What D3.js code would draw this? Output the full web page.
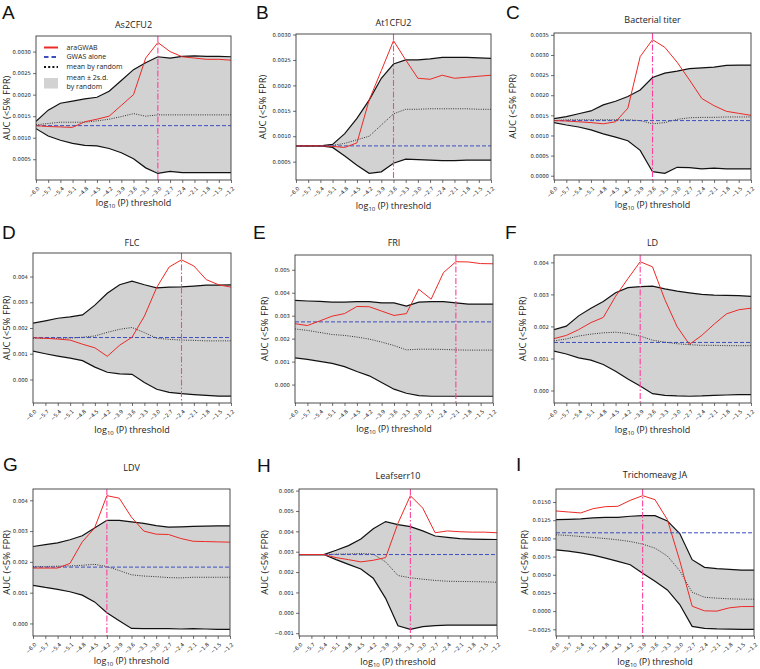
<!DOCTYPE html>
<html>
<head>
<meta charset="utf-8">
<script src="https://cdn.jsdelivr.net/npm/d3@7"></script>
<style>
  html, body { margin: 0; padding: 0; background: #fff; }
  svg { display: block; }
</style>
</head>
<body>
<svg id="chart" width="760" height="669"></svg>
<script>
// ---------------- DATA ----------------
const thresholds = [-6.0, -5.7, -5.4, -5.1, -4.8, -4.5, -4.2, -3.9, -3.6, -3.3, -3.0, -2.7, -2.4, -2.1, -1.8, -1.5, -1.2];
const panelLetters = ["A", "B", "C", "D", "E", "F", "G", "H", "I"];
const panelTitles = ["As2CFU2", "At1CFU2", "Bacterial titer", "FLC", "FRI", "LD", "LDV", "Leafserr10", "Trichomeavg JA"];
const legendLabels = ["araGWAB", "GWAS alone", "mean by random", "mean \u00B1 2s.d.", "by random"];

// araGWAB (red) per panel
const araGWAB = [
  [0.00128,0.00126,0.00125,0.00124,0.00137,0.00143,0.00150,0.00175,0.00200,0.00285,0.00321,0.00300,0.00288,0.00285,0.00282,0.00282,0.00280],
  [0.00081,0.00081,0.00081,0.00080,0.00078,0.00087,0.00171,0.00229,0.00288,0.00250,0.00214,0.00212,0.00220,0.00214,0.00216,0.00218,0.00220],
  [0.00137,0.00136,0.00134,0.00132,0.00129,0.00134,0.00168,0.00296,0.00338,0.00319,0.00282,0.00238,0.00192,0.00174,0.00160,0.00155,0.00150],
  [0.00162,0.00160,0.00157,0.00153,0.00137,0.00123,0.00090,0.00133,0.00164,0.00246,0.00358,0.00437,0.00465,0.00441,0.00388,0.00368,0.00359],
  [0.00265,0.00257,0.00277,0.00298,0.00309,0.00340,0.00339,0.00320,0.00301,0.00309,0.00415,0.00372,0.00488,0.00535,0.00534,0.00527,0.00526],
  [0.00162,0.00172,0.00190,0.00212,0.00228,0.00294,0.00349,0.00402,0.00386,0.00284,0.00199,0.00144,0.00172,0.00207,0.00239,0.00252,0.00257],
  [0.00180,0.00180,0.00180,0.00195,0.00265,0.00310,0.00415,0.00407,0.00345,0.00300,0.00290,0.00289,0.00276,0.00267,0.00266,0.00265,0.00264],
  [0.00286,0.00286,0.00286,0.00271,0.00261,0.00250,0.00258,0.00271,0.00440,0.00575,0.00514,0.00393,0.00402,0.00398,0.00396,0.00396,0.00393],
  [0.01377,0.01363,0.01350,0.01409,0.01436,0.01441,0.01523,0.01587,0.01532,0.01258,0.00693,0.00068,0.00004,0.00000,0.00045,0.00063,0.00063]
];
// mean + 2 s.d. by random
const upperBand = [
  [0.00138,0.00164,0.00180,0.00185,0.00190,0.00194,0.00208,0.00233,0.00258,0.00274,0.00288,0.00285,0.00289,0.00290,0.00289,0.00289,0.00288],
  [0.00081,0.00081,0.00081,0.00084,0.00105,0.00135,0.00171,0.00214,0.00242,0.00250,0.00250,0.00252,0.00255,0.00255,0.00255,0.00254,0.00253],
  [0.00142,0.00147,0.00154,0.00161,0.00176,0.00185,0.00197,0.00213,0.00244,0.00255,0.00260,0.00266,0.00268,0.00270,0.00274,0.00275,0.00275],
  [0.00219,0.00228,0.00238,0.00243,0.00251,0.00289,0.00335,0.00368,0.00382,0.00368,0.00356,0.00359,0.00360,0.00363,0.00367,0.00367,0.00368],
  [0.00367,0.00364,0.00362,0.00359,0.00359,0.00361,0.00361,0.00356,0.00356,0.00342,0.00359,0.00361,0.00361,0.00356,0.00350,0.00350,0.00350],
  [0.00190,0.00201,0.00233,0.00257,0.00278,0.00305,0.00321,0.00324,0.00326,0.00317,0.00310,0.00305,0.00300,0.00298,0.00297,0.00296,0.00294],
  [0.00250,0.00256,0.00262,0.00272,0.00285,0.00310,0.00335,0.00335,0.00330,0.00325,0.00318,0.00313,0.00314,0.00315,0.00316,0.00317,0.00317],
  [0.00286,0.00286,0.00286,0.00307,0.00330,0.00362,0.00413,0.00448,0.00433,0.00423,0.00402,0.00377,0.00370,0.00364,0.00362,0.00361,0.00360],
  [0.01258,0.01262,0.01267,0.01281,0.01290,0.01290,0.01304,0.01313,0.01313,0.01240,0.01067,0.00707,0.00602,0.00583,0.00574,0.00565,0.00565]
];
// mean - 2 s.d. by random
const lowerBand = [
  [0.00121,0.00104,0.00094,0.00087,0.00082,0.00081,0.00075,0.00065,0.00051,0.00030,0.00017,0.00022,0.00019,0.00019,0.00019,0.00019,0.00019],
  [0.00081,0.00081,0.00081,0.00078,0.00061,0.00043,0.00027,0.00030,0.00047,0.00055,0.00054,0.00053,0.00052,0.00052,0.00053,0.00053,0.00053],
  [0.00132,0.00126,0.00121,0.00114,0.00104,0.00096,0.00087,0.00063,0.00010,0.00006,0.00021,0.00020,0.00017,0.00019,0.00017,0.00017,0.00017],
  [0.00110,0.00100,0.00091,0.00083,0.00073,0.00048,0.00028,0.00022,0.00020,-0.00012,-0.00038,-0.00050,-0.00055,-0.00059,-0.00062,-0.00065,-0.00065],
  [0.00116,0.00110,0.00101,0.00092,0.00078,0.00057,0.00038,0.00009,-0.00020,-0.00038,-0.00048,-0.00051,-0.00051,-0.00051,-0.00051,-0.00051,-0.00051],
  [0.00123,0.00114,0.00102,0.00095,0.00081,0.00060,0.00036,0.00014,-0.00010,-0.00015,-0.00017,-0.00018,-0.00017,-0.00015,-0.00014,-0.00013,-0.00013],
  [0.00124,0.00117,0.00111,0.00103,0.00092,0.00070,0.00035,0.00009,-0.00016,-0.00017,-0.00017,-0.00017,-0.00018,-0.00017,-0.00018,-0.00019,-0.00019],
  [0.00286,0.00286,0.00286,0.00261,0.00238,0.00215,0.00170,0.00071,-0.00064,-0.00081,-0.00068,-0.00063,-0.00060,-0.00060,-0.00060,-0.00060,-0.00060],
  [0.00843,0.00825,0.00802,0.00770,0.00729,0.00684,0.00638,0.00520,0.00410,0.00292,0.00091,-0.00210,-0.00237,-0.00245,-0.00247,-0.00250,-0.00250]
];
// mean by random
const meanRandom = [
  [0.00130,0.00133,0.00136,0.00136,0.00136,0.00139,0.00143,0.00149,0.00156,0.00150,0.00153,0.00153,0.00153,0.00153,0.00153,0.00153,0.00153],
  [0.00081,0.00081,0.00081,0.00082,0.00086,0.00093,0.00100,0.00122,0.00144,0.00153,0.00153,0.00154,0.00154,0.00154,0.00154,0.00153,0.00153],
  [0.00137,0.00139,0.00139,0.00139,0.00139,0.00139,0.00139,0.00137,0.00129,0.00132,0.00140,0.00144,0.00145,0.00145,0.00146,0.00146,0.00146],
  [0.00160,0.00160,0.00160,0.00161,0.00164,0.00169,0.00183,0.00195,0.00202,0.00182,0.00160,0.00156,0.00153,0.00152,0.00150,0.00150,0.00150],
  [0.00242,0.00236,0.00227,0.00218,0.00214,0.00207,0.00198,0.00185,0.00170,0.00151,0.00154,0.00154,0.00153,0.00151,0.00150,0.00150,0.00150],
  [0.00155,0.00161,0.00170,0.00176,0.00180,0.00182,0.00178,0.00170,0.00157,0.00151,0.00146,0.00143,0.00141,0.00141,0.00140,0.00140,0.00140],
  [0.00185,0.00185,0.00186,0.00187,0.00189,0.00192,0.00185,0.00172,0.00158,0.00154,0.00152,0.00149,0.00148,0.00150,0.00150,0.00150,0.00150],
  [0.00286,0.00286,0.00286,0.00288,0.00289,0.00291,0.00288,0.00250,0.00183,0.00172,0.00165,0.00159,0.00155,0.00154,0.00153,0.00152,0.00150],
  [0.01049,0.01040,0.01026,0.01012,0.00998,0.00980,0.00957,0.00921,0.00866,0.00757,0.00556,0.00260,0.00191,0.00178,0.00169,0.00164,0.00164]
];
// GWAS alone (constant)
const gwasAlone = [0.00128, 0.00081, 0.00137, 0.00163, 0.00273, 0.00150, 0.00183, 0.00286, 0.01077];
// best threshold (vertical line)
const bestThreshold = [-3.0, -3.6, -3.6, -2.4, -2.1, -3.9, -4.2, -3.3, -3.9];
// y tick values per panel
const yTicks = [
  [0.0005, 0.0010, 0.0015, 0.0020, 0.0025, 0.0030],
  [0.0005, 0.0010, 0.0015, 0.0020, 0.0025, 0.0030],
  [0.0000, 0.0005, 0.0010, 0.0015, 0.0020, 0.0025, 0.0030, 0.0035],
  [0.000, 0.001, 0.002, 0.003, 0.004],
  [0.000, 0.001, 0.002, 0.003, 0.004, 0.005],
  [0.000, 0.001, 0.002, 0.003, 0.004],
  [0.000, 0.001, 0.002, 0.003, 0.004],
  [-0.001, 0.000, 0.001, 0.002, 0.003, 0.004, 0.005, 0.006],
  [-0.0025, 0.0000, 0.0025, 0.0050, 0.0075, 0.0100, 0.0125, 0.0150]
];
const yTickDecimals = [4, 4, 4, 3, 3, 3, 3, 3, 4];

// ---------------- LAYOUT ----------------
const boxes = [
  [36, 36, 231, 180], [296, 34, 491, 180], [554, 33, 751, 180],
  [33, 253, 231, 403], [295, 255, 493, 403], [554, 255, 751, 403],
  [33, 489, 230, 636], [299, 489, 497, 636], [556, 489, 754, 636]
];
const titleY = [25, 23, 20, 243, 243, 243, 468, 476, 475];
const yLabelX = [7, 263, 513, 7, 265, 523, 7, 265, 525];
const letterPos = [[2, 18.5], [256, 18.5], [506, 18.5], [2, 239], [253, 239], [505, 239], [3, 471], [257, 472], [516, 471]];
const xLabelY = [203, 206, 205, 430, 429, 430, 661, 662, 662];

const C_RED = "#ec2a26", C_BLUE = "#3d4fc0", C_FILL = "#d2d2d2", C_PINK = "#ff3f9c";

const svg = d3.select("#chart");
svg.append("rect").attr("width", 760).attr("height", 669).attr("fill", "#fff");

const fmtSigned = (v, dec) => (v < -1e-12 ? "\u2212" : "") + Math.abs(v).toFixed(dec);

panelLetters.forEach((letter, i) => {
  const [L, T, R, B] = boxes[i];
  const g = svg.append("g");

  const x = d3.scaleLinear().domain([thresholds[0], thresholds[thresholds.length - 1]]).range([L, R]);
  const all = [].concat(araGWAB[i], upperBand[i], lowerBand[i], meanRandom[i], [gwasAlone[i]]);
  const ext = d3.extent(all);
  const pad = 0.05 * (ext[1] - ext[0]);
  const y = d3.scaleLinear().domain([ext[0] - pad, ext[1] + pad]).range([B, T]);

  const clipId = "clip" + i;
  svg.append("defs").append("clipPath").attr("id", clipId)
    .append("rect").attr("x", L).attr("y", T).attr("width", R - L).attr("height", B - T);

  const plot = g.append("g").attr("clip-path", `url(#${clipId})`);

  const area = d3.area()
    .x((d, k) => x(thresholds[k]))
    .y0((d, k) => y(lowerBand[i][k]))
    .y1((d, k) => y(upperBand[i][k]));
  plot.append("path").datum(thresholds).attr("d", area).attr("fill", C_FILL);

  const line = arr => d3.line().x((d, k) => x(thresholds[k])).y(d => y(d))(arr);

  plot.append("path").attr("d", line(upperBand[i])).attr("fill", "none").attr("stroke", "#111").attr("stroke-width", 1.2);
  plot.append("path").attr("d", line(lowerBand[i])).attr("fill", "none").attr("stroke", "#111").attr("stroke-width", 1.2);
  plot.append("path").attr("d", line(meanRandom[i])).attr("fill", "none").attr("stroke", "#333")
    .attr("stroke-width", 1).attr("stroke-dasharray", "1,1.3");
  plot.append("line").attr("x1", L).attr("x2", R).attr("y1", y(gwasAlone[i])).attr("y2", y(gwasAlone[i]))
    .attr("stroke", C_BLUE).attr("stroke-width", 1).attr("stroke-dasharray", "4,2");
  plot.append("path").attr("d", line(araGWAB[i])).attr("fill", "none").attr("stroke", C_RED).attr("stroke-width", 1);
  plot.append("line").attr("x1", x(bestThreshold[i])).attr("x2", x(bestThreshold[i])).attr("y1", T).attr("y2", B)
    .attr("stroke", C_PINK).attr("stroke-width", 1.1).attr("stroke-dasharray", "6,2,1.5,2");

  // frame
  g.append("rect").attr("x", L).attr("y", T).attr("width", R - L).attr("height", B - T)
    .attr("fill", "none").attr("stroke", "#3a3a3a").attr("stroke-width", 0.9);

  // x axis
  const xAxis = g.append("g").attr("transform", `translate(0,${B})`)
    .call(d3.axisBottom(x).tickValues(thresholds).tickFormat(d => fmtSigned(d, 1)).tickSize(3));
  xAxis.select(".domain").remove();
  xAxis.selectAll(".tick line").attr("stroke", "#333").attr("stroke-width", 0.7);
  xAxis.selectAll(".tick text")
    .attr("x", 0).attr("y", 0).attr("dy", "0.35em")
    .attr("text-anchor", "end")
    .attr("transform", "translate(2.2,7.5) rotate(-45)")
    .attr("font-family", "DejaVu Sans").attr("font-size", 5.3).attr("fill", "#222");

  // y axis
  const yAxis = g.append("g").attr("transform", `translate(${L},0)`)
    .call(d3.axisLeft(y).tickValues(yTicks[i]).tickFormat(d => fmtSigned(d, yTickDecimals[i])).tickSize(3).tickPadding(2));
  yAxis.select(".domain").remove();
  yAxis.selectAll(".tick line").attr("stroke", "#333").attr("stroke-width", 0.7);
  yAxis.selectAll(".tick text").attr("font-family", "DejaVu Sans").attr("font-size", 5.3).attr("fill", "#222");

  // title
  g.append("text").attr("x", (L + R) / 2).attr("y", titleY[i]).attr("dy", "0.35em")
    .attr("text-anchor", "middle").attr("font-family", "Open Sans").attr("font-size", 9).attr("fill", "#222")
    .text(panelTitles[i]);

  // y label
  g.append("text").attr("transform", `translate(${yLabelX[i]},${(T + B) / 2}) rotate(-90)`)
    .attr("dy", "0.35em").attr("text-anchor", "middle")
    .attr("font-family", "Open Sans").attr("font-size", 9.5).attr("fill", "#222")
    .text("AUC (<5% FPR)");

  // x label
  const xl = g.append("text").attr("x", (L + R) / 2).attr("y", xLabelY[i]).attr("dy", "0.35em")
    .attr("text-anchor", "middle").attr("font-family", "Open Sans").attr("font-size", 9).attr("fill", "#222");
  xl.append("tspan").text("log");
  xl.append("tspan").attr("font-size", 6).attr("dy", 2).text("10");
  xl.append("tspan").attr("dy", -2).text(" (P) threshold");

  // panel letter
  svg.append("text").attr("x", letterPos[i][0]).attr("y", letterPos[i][1])
    .attr("font-family", "Liberation Sans").attr("font-size", 19).attr("fill", "#111").text(letter);

  // legend (panel A only)
  if (i === 0) {
    const lg = g.append("g");
    const lx0 = L + 8, lx1 = L + 22, tx = L + 30.5;
    const rows = [T + 11.5, T + 21, T + 31, T + 42, T + 51];
    lg.append("line").attr("x1", lx0).attr("x2", lx1).attr("y1", rows[0]).attr("y2", rows[0])
      .attr("stroke", C_RED).attr("stroke-width", 2);
    lg.append("line").attr("x1", lx0).attr("x2", lx1).attr("y1", rows[1]).attr("y2", rows[1])
      .attr("stroke", C_BLUE).attr("stroke-width", 2).attr("stroke-dasharray", "4.5,3");
    lg.append("line").attr("x1", lx0).attr("x2", lx1).attr("y1", rows[2]).attr("y2", rows[2])
      .attr("stroke", "#111").attr("stroke-width", 2).attr("stroke-dasharray", "2,2.2");
    lg.append("rect").attr("x", lx0).attr("y", T + 42).attr("width", lx1 - lx0).attr("height", 10.5)
      .attr("fill", C_FILL);
    legendLabels.forEach((t, k) => {
      lg.append("text").attr("x", tx).attr("y", rows[k]).attr("dy", "0.35em")
        .attr("font-family", "Open Sans").attr("font-size", 7).attr("fill", "#222").text(t);
    });
  }
});
</script>
</body>
</html>
